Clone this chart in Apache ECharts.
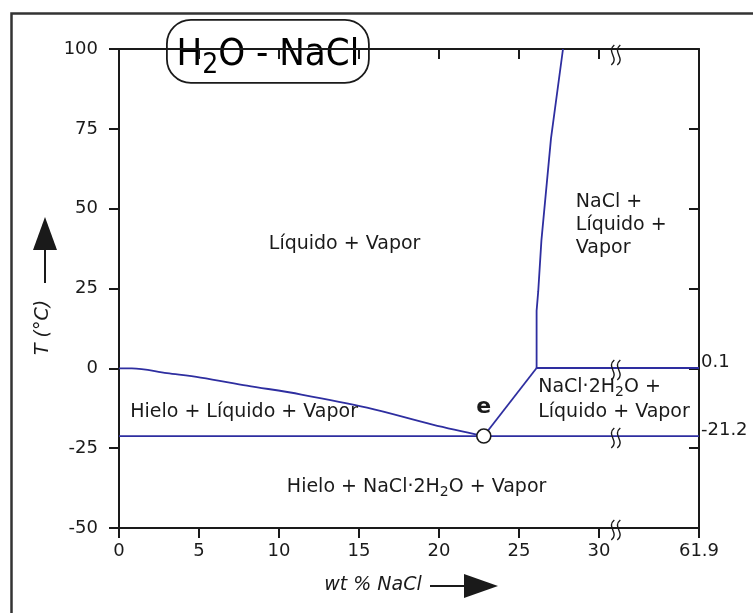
<!DOCTYPE html>
<html>
<head>
<meta charset="utf-8">
<script src="https://cdn.jsdelivr.net/npm/echarts@6/dist/echarts.min.js"></script>
<style>
  html, body { margin: 0; padding: 0; background: #fff; }
  #chart { width: 753px; height: 613px; }
</style>
</head>
<body>
<div id="chart"></div>
<script>
// ---- H2O - NaCl phase diagram data ----
const xTicks = [0, 5, 10, 15, 20, 25, 30, 61.9];          // wt % NaCl tick labels
const yTicks = [-50, -25, 0, 25, 50, 75, 100];             // T (°C) tick labels
const rightLabels = [0.1, -21.2];                          // invariant temperatures

const iceLiquidus = [[0, 0], [0.8, 0], [3, -1.5], [5.1, -2.9], [8, -5.4], [11.4, -8.2], [15.5, -12.3], [19.6, -17.6], [22.8, -21.2]];
const hydrohaliteLiquidus = [[22.8, -21.2], [26.1, 0.1]];
const haliteLiquidus = [[26.1, 0.1], [26.1, 18], [26.2, 24], [26.4, 40], [27.0, 72], [27.75, 100]];
const peritecticLine = [[26.1, 0.1], [61.9, 0.1]];
const eutecticLine = [[0, -21.2], [61.9, -21.2]];
const eutectic = [22.8, -21.2];
const breakTemps = [100, 0.1, -21.2, -50];                 // where the axis break is marked

const regionNames = [
  'Líquido + Vapor',
  'NaCl +\nLíquido +\nVapor',
  'NaCl·2H₂O +\nLíquido + Vapor',
  'Hielo + Líquido + Vapor',
  'Hielo + NaCl·2H₂O + Vapor'
];
const regionAnchors = [[14.1, 39], [28.55, 45], [26.2, -9.7], [0.7, -13.7], [18.6, -37.1]];

// ---- broken composition axis: 30 .. 61.9 is squeezed into a short span ----
const BREAK_LO = 30, BREAK_HI = 61.9, BREAK_SPAN = 6.25;
const toAxis = w => (w <= BREAK_LO ? w : BREAK_LO + (w - BREAK_LO) * BREAK_SPAN / (BREAK_HI - BREAK_LO));
const X_MAX = toAxis(BREAK_HI);
const BREAK_AT = BREAK_LO + 1.05;
const mapPts = pts => pts.map(p => [toAxis(p[0]), p[1]]);
const xTickPos = xTicks.map(toAxis);
const xLabelFor = v => {
  const i = xTickPos.findIndex(t => Math.abs(t - v) < 1e-6);
  return i >= 0 ? String(xTicks[i]) : '';
};

const FONT = 'DejaVu Sans';
const INK = '#1a1a1a';
const CURVE = '#2e2ea0';

// subscript markup for rich text
const richText = s => s.replace(/₂/g, '{s|2}');
const subRich = { s: { fontSize: 14, lineHeight: 10, verticalAlign: 'bottom', fontFamily: FONT, color: INK } };

const lineSeries = (data, smooth) => ({
  type: 'line',
  data: mapPts(data),
  smooth: smooth || false,
  symbol: 'none',
  lineStyle: { color: CURVE, width: 1.8 },
  z: 3
});

const axisLineStyle = { onZero: false, lineStyle: { color: INK, width: 2 } };

const chart = echarts.init(document.getElementById('chart'), null, { renderer: 'canvas' });

chart.setOption({
  animation: false,
  backgroundColor: '#fff',
  grid: { left: 119, right: 54, top: 49, bottom: 85 },
  xAxis: [
    {
      type: 'value', min: 0, max: X_MAX, position: 'bottom',
      name: 'wt % NaCl', nameLocation: 'middle', nameGap: 48,
      nameTextStyle: { fontFamily: FONT, fontSize: 19, fontStyle: 'italic', color: INK, padding: [0, 72, 0, 0] },
      axisLine: axisLineStyle,
      axisTick: { inside: false, length: 10, customValues: xTickPos, lineStyle: { color: INK, width: 2 } },
      axisLabel: { customValues: xTickPos, formatter: xLabelFor, fontFamily: FONT, fontSize: 18, color: INK, margin: 14 },
      splitLine: { show: false }
    },
    {
      type: 'value', min: 0, max: X_MAX, position: 'top',
      axisLine: axisLineStyle,
      axisTick: { inside: true, length: 10, customValues: xTickPos.slice(1, 7), lineStyle: { color: INK, width: 2 } },
      axisLabel: { show: false },
      splitLine: { show: false }
    }
  ],
  yAxis: [
    {
      type: 'value', min: -50, max: 100, interval: 25, position: 'left',
      name: 'T (°C)', nameLocation: 'middle', nameGap: 61, nameRotate: 90,
      nameTextStyle: { fontFamily: FONT, fontSize: 19, fontStyle: 'italic', color: INK, padding: [0, 78, 0, 0] },
      axisLine: axisLineStyle,
      axisTick: { inside: false, length: 10, lineStyle: { color: INK, width: 2 } },
      axisLabel: { fontFamily: FONT, fontSize: 18, color: INK, margin: 21 },
      splitLine: { show: false }
    },
    {
      type: 'value', min: -50, max: 100, position: 'right',
      axisLine: axisLineStyle,
      axisTick: { inside: true, length: 10, customValues: [-25, 0, 25, 50, 75], lineStyle: { color: INK, width: 2 } },
      axisLabel: {
        customValues: rightLabels, formatter: v => String(v),
        fontFamily: FONT, fontSize: 18, color: INK, margin: 2,
        verticalAlign: 'bottom', lineHeight: 12
      },
      splitLine: { show: false }
    }
  ],
  series: [
    lineSeries(eutecticLine),
    lineSeries(peritecticLine),
    lineSeries(iceLiquidus, 0.35),
    lineSeries(hydrohaliteLiquidus),
    lineSeries(haliteLiquidus),
    {
      // eutectic point "e"
      type: 'scatter',
      data: [mapPts([eutectic])[0]],
      symbol: 'circle', symbolSize: 14,
      itemStyle: { color: '#fff', borderColor: INK, borderWidth: 1.6, opacity: 1 },
      label: { show: true, position: 'top', distance: 10, formatter: 'e', fontFamily: FONT, fontSize: 22, fontWeight: 'bold', color: INK },
      z: 5
    },
    {
      // phase-field names
      type: 'scatter',
      symbolSize: 0,
      silent: true,
      itemStyle: { opacity: 1 },
      data: regionAnchors.map((p, i) => ({
        value: [toAxis(p[0]), p[1]],
        label: {
          show: true,
          position: 'inside',
          formatter: richText(regionNames[i]),
          align: (i === 1 || i === 2 || i === 3) ? 'left' : 'center',
          fontFamily: FONT, fontSize: 19, lineHeight: i === 1 ? 23 : 25, color: INK,
          rich: subRich
        }
      })),
      z: 4
    },
    {
      // wavy break marks on the composition axis
      type: 'custom',
      clip: false,
      silent: true,
      data: breakTemps.map(t => [BREAK_AT, t]),
      renderItem: (params, api) => {
        const p = api.coord([api.value(0), api.value(1)]);
        const cy = p[1] + (api.value(1) === 100 ? 6 : 2);
        const wave = dx => ({
          type: 'bezierCurve',
          shape: {
            x1: p[0] + dx + 1.5, y1: cy - 10,
            cpx1: p[0] + dx - 7, cpy1: cy - 3,
            cpx2: p[0] + dx + 7, cpy2: cy + 3,
            x2: p[0] + dx - 1.5, y2: cy + 10
          },
          style: { stroke: INK, fill: null, lineWidth: 1.4 }
        });
        return { type: 'group', children: [wave(-3), wave(3)] };
      },
      z: 6
    }
  ],
  graphic: [
    {
      // outer frame
      type: 'rect', left: 9, top: 11, z: 0,
      shape: { x: 0, y: 0, width: 800, height: 700 },
      style: { fill: null, stroke: '#333', lineWidth: 2.5 }
    },
    {
      // title box
      type: 'group', left: 166, top: 19, z: 100,
      children: [
        {
          type: 'rect',
          shape: { x: 0, y: 0, width: 202, height: 63, r: 24 },
          style: { fill: '#fff', stroke: INK, lineWidth: 1.8 }
        },
        {
          type: 'text', x: 101, y: 35,
          style: {
            text: '{m|H}{t|2}{m|O - NaCl}',
            align: 'center', verticalAlign: 'middle',
            rich: {
              m: { fontFamily: "'Liberation Sans Narrow', 'DejaVu Sans Condensed', 'Liberation Sans'", fontSize: 38, lineHeight: 50, color: INK },
              t: { fontFamily: "'Liberation Sans Narrow', 'DejaVu Sans Condensed', 'Liberation Sans'", fontSize: 28, lineHeight: 26, verticalAlign: 'bottom', color: INK }
            }
          }
        }
      ]
    },
    {
      // arrow beside the temperature axis title
      type: 'group', z: 100,
      children: [
        { type: 'line', shape: { x1: 45, y1: 283, x2: 45, y2: 246 }, style: { stroke: INK, lineWidth: 2 } },
        { type: 'polygon', shape: { points: [[45, 217], [33, 250], [57, 250]] }, style: { fill: INK } }
      ]
    },
    {
      // arrow beside the composition axis title
      type: 'group', z: 100,
      children: [
        { type: 'line', shape: { x1: 430, y1: 586, x2: 468, y2: 586 }, style: { stroke: INK, lineWidth: 2 } },
        { type: 'polygon', shape: { points: [[498, 586], [464, 574], [464, 598]] }, style: { fill: INK } }
      ]
    }
  ]
});
</script>
</body>
</html>
